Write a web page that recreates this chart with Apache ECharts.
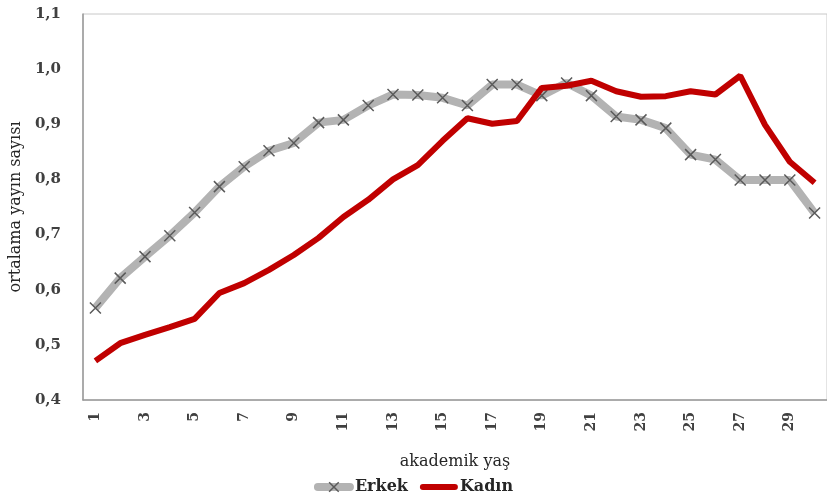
<!DOCTYPE html>
<html><head><meta charset="utf-8">
<script src="https://cdn.jsdelivr.net/npm/echarts@6/dist/echarts.min.js"></script>
<style>html,body{margin:0;padding:0;background:#fff}#c{width:827px;height:497px}</style>
</head><body><div id="c"></div>
<script>
const categories = ['1','2','3','4','5','6','7','8','9','10','11','12','13','14','15','16','17','18','19','20','21','22','23','24','25','26','27','28','29','30'];
const erkek = [0.567,0.621,0.660,0.698,0.740,0.787,0.823,0.852,0.866,0.903,0.908,0.934,0.954,0.953,0.948,0.934,0.972,0.972,0.952,0.975,0.952,0.914,0.908,0.893,0.845,0.836,0.799,0.799,0.799,0.739];
const kadin = [0.471,0.503,0.518,0.532,0.547,0.594,0.612,0.636,0.663,0.694,0.732,0.763,0.800,0.826,0.870,0.911,0.901,0.906,0.966,0.970,0.979,0.960,0.950,0.951,0.960,0.954,0.988,0.899,0.832,0.794];
const yTicks = [0.4,0.5,0.6,0.7,0.8,0.9,1.0,1.1];

const font = '"DejaVu Serif", "Liberation Serif", serif';
const cross = 'path://M0,0L10,10M10,0L0,10';
const chart = echarts.init(document.getElementById('c'));
chart.setOption({
  animation: false,
  textStyle: { fontFamily: font },
  grid: { left: 83, top: 14, bottom: 97, width: 757, show: true, borderColor: '#c8c8c8', borderWidth: 1 },
  legend: {
    bottom: -3, left: 'center', itemGap: 12, itemWidth: 32, itemHeight: 12,
    textStyle: { fontFamily: font, fontWeight: 'bold', fontSize: 16, color: '#262626' },
    data: [
      { name: 'Erkek', lineStyle: { width: 8, color: '#b3b3b3', cap: 'round' },
        itemStyle: { color: 'none', borderColor: '#5a5a5a', borderWidth: 1.5 } },
      { name: 'Kadın', lineStyle: { width: 6, color: '#c00000', cap: 'round' },
        itemStyle: { opacity: 0 } }
    ]
  },
  xAxis: {
    type: 'category', data: categories, boundaryGap: true,
    name: 'akademik yaş', nameLocation: 'middle', nameGap: 54,
    nameTextStyle: { fontFamily: font, fontSize: 16, color: '#262626' },
    axisLine: { lineStyle: { color: '#999', width: 1.5 } },
    axisTick: { show: false },
    axisLabel: { interval: 1, rotate: 90, fontFamily: font, fontWeight: 'bold', fontSize: 14, color: '#404040', margin: 12 }
  },
  yAxis: {
    type: 'value', min: 0.4, max: 1.1, interval: 0.1,
    name: 'ortalama yayın sayısı', nameLocation: 'middle', nameGap: 58,
    nameTextStyle: { fontFamily: font, fontSize: 16, color: '#262626' },
    axisLine: { show: true, lineStyle: { color: '#999', width: 1.5 } },
    axisTick: { show: false },
    splitLine: { show: false },
    axisLabel: {
      fontFamily: font, fontWeight: 'bold', fontSize: 15, color: '#404040', margin: 22,
      formatter: v => (Math.round(v * 10) / 10).toFixed(1).replace('.', ',')
    }
  },
  series: [
    {
      name: 'Erkek', type: 'line', data: erkek,
      lineStyle: { color: '#b3b3b3', width: 8 },
      symbol: cross, symbolSize: 11,
      itemStyle: { color: 'none', borderColor: '#5a5a5a', borderWidth: 1.5 },
      z: 2
    },
    {
      name: 'Kadın', type: 'line', data: kadin,
      lineStyle: { color: '#c00000', width: 6 },
      symbol: 'none',
      itemStyle: { color: '#c00000' },
      z: 3
    }
  ]
});
</script></body></html>
